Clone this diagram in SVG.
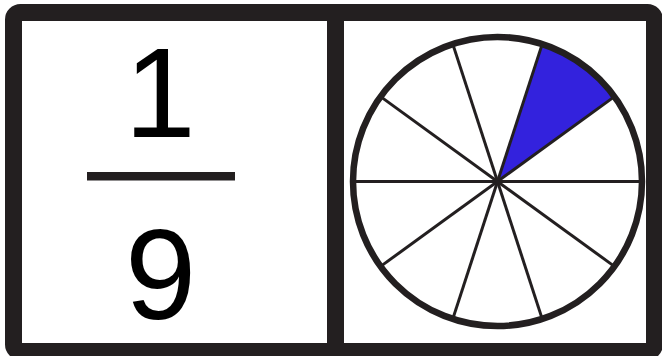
<svg xmlns="http://www.w3.org/2000/svg" width="662" height="356" viewBox="0 0 662 356">
<style>
.ink{fill:none;stroke:#231f20}
.num{font-family:"Liberation Sans",Arial,sans-serif;font-size:128px;fill:#000;text-anchor:middle}
.spoke{stroke:#231f20;stroke-width:3}
</style>
<rect width="662" height="356" fill="#fff"/>
<g id="fraction">
<text class="num" x="160" y="137">1</text>
<rect x="87" y="172" width="148" height="8.5" fill="#231f20"/>
<text class="num" x="160.5" y="319">9</text>
</g>
<g id="pie">
<path d="M497.5,181.5 L614.4,96.6 A144.5,144.5 0 0 0 542.2,44.1 Z" fill="#3322dd"/>
<g class="spoke">
<line x1="353" y1="181.5" x2="642" y2="181.5"/>
<line x1="380.6" y1="266.4" x2="614.4" y2="96.6"/>
<line x1="452.8" y1="318.9" x2="542.2" y2="44.1"/>
<line x1="542.2" y1="318.9" x2="452.8" y2="44.1"/>
<line x1="614.4" y1="266.4" x2="380.6" y2="96.6"/>
</g>
<circle class="ink" cx="497.5" cy="181.5" r="144.5" stroke-width="6.5"/>
</g>
<g id="frame">
<rect class="ink" x="13.5" y="12.5" width="641" height="339" rx="7" stroke-width="17"/>
<line x1="335.5" y1="12" x2="335.5" y2="352" stroke="#231f20" stroke-width="17"/>
</g>
</svg>
